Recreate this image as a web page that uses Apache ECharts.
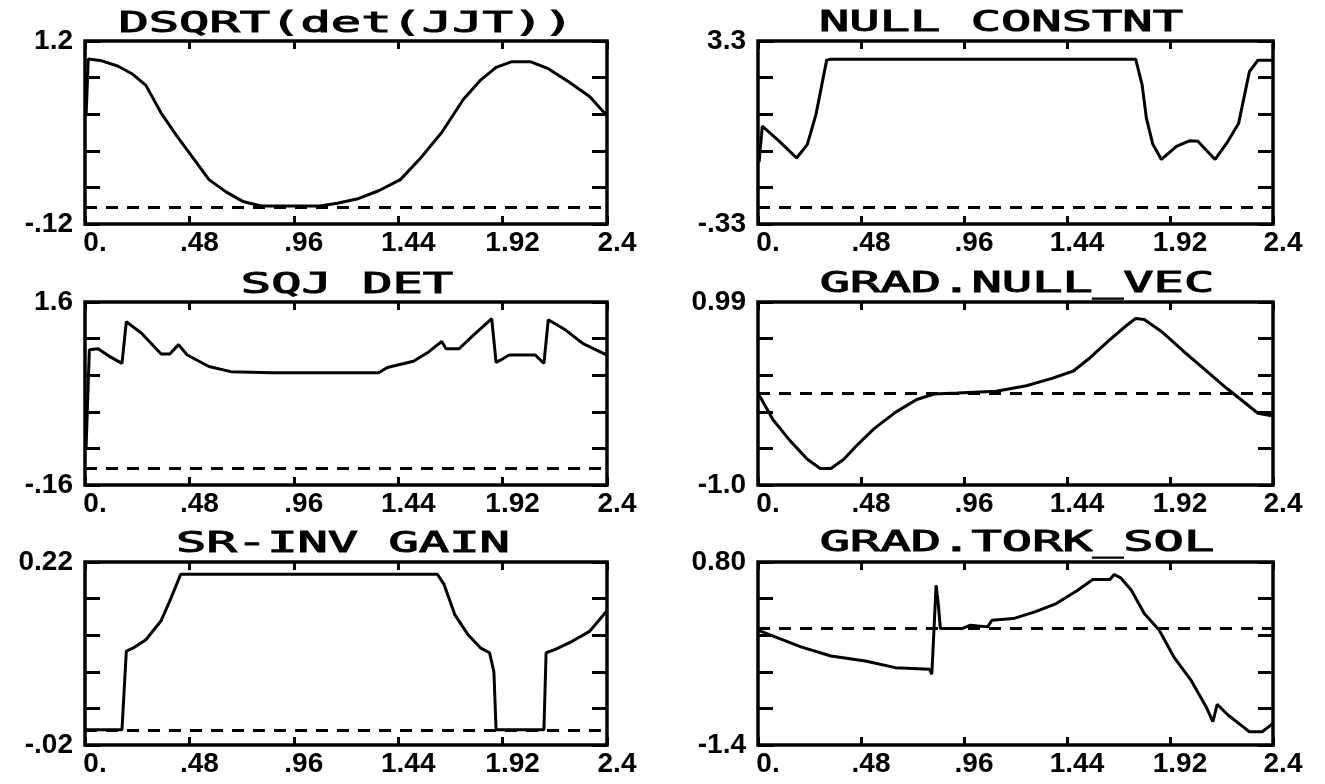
<!DOCTYPE html>
<html>
<head>
<meta charset="utf-8">
<script src="https://cdn.jsdelivr.net/npm/echarts@6/dist/echarts.min.js"></script>
<style>
html,body{margin:0;padding:0;background:#fff;}
#chart{width:1325px;height:784px;}
</style>
</head>
<body>
<div id="chart"></div>
<script>
// ---- data ----
const xTickLabels = ['0.', '.48', '.96', '1.44', '1.92', '2.4'];
const titles = ['DSQRT(det(JJT))', 'NULL CONSTNT', 'SQJ DET', 'GRAD.NULL_VEC', 'SR-INV GAIN', 'GRAD.TORK_SOL'];
const yMins = [-0.12, -0.33, -0.16, -1.0, -0.02, -1.4];
const yMaxs = [1.2, 3.3, 1.6, 0.99, 0.22, 0.80];
const yMinLabels = ['-.12', '-.33', '-.16', '-1.0', '-.02', '-1.4'];
const yMaxLabels = ['1.2', '3.3', '1.6', '0.99', '0.22', '0.80'];

const dsqrtT = [0.005, 0.015, 0.07, 0.15, 0.22, 0.28, 0.35, 0.42, 0.50, 0.57, 0.65, 0.73, 0.81, 0.88, 0.96, 1.08, 1.16, 1.25, 1.35, 1.45, 1.54, 1.64, 1.74, 1.82, 1.89, 1.96, 2.05, 2.13, 2.22, 2.32, 2.40];
const dsqrtV = [0.66, 1.07, 1.06, 1.02, 0.96, 0.88, 0.68, 0.52, 0.35, 0.20, 0.11, 0.04, 0.01, 0.01, 0.01, 0.01, 0.03, 0.06, 0.12, 0.20, 0.35, 0.54, 0.78, 0.92, 1.01, 1.05, 1.05, 1.00, 0.91, 0.80, 0.66];

const nullT = [0.005, 0.02, 0.10, 0.18, 0.23, 0.27, 0.32, 0.34, 1.76, 1.79, 1.81, 1.84, 1.88, 1.95, 2.01, 2.05, 2.13, 2.19, 2.24, 2.29, 2.33, 2.40];
const nullV = [0.90, 1.61, 1.31, 0.98, 1.25, 1.84, 2.92, 2.94, 2.94, 2.43, 1.77, 1.25, 0.95, 1.21, 1.32, 1.31, 0.95, 1.31, 1.67, 2.69, 2.92, 2.92];

const sqjT = [0.005, 0.02, 0.06, 0.11, 0.17, 0.19, 0.26, 0.35, 0.39, 0.43, 0.47, 0.57, 0.67, 0.86, 1.35, 1.39, 1.51, 1.58, 1.64, 1.66, 1.72, 1.78, 1.87, 1.89, 1.91, 1.95, 2.07, 2.11, 2.13, 2.21, 2.29, 2.40];
const sqjV = [0.20, 1.14, 1.15, 1.08, 1.01, 1.41, 1.30, 1.10, 1.10, 1.19, 1.09, 0.98, 0.93, 0.92, 0.92, 0.97, 1.03, 1.12, 1.22, 1.15, 1.15, 1.27, 1.44, 1.02, 1.04, 1.09, 1.09, 1.01, 1.43, 1.33, 1.20, 1.09];

const gnvT = [0.0, 0.07, 0.15, 0.23, 0.29, 0.34, 0.40, 0.46, 0.54, 0.64, 0.74, 0.82, 0.93, 1.11, 1.25, 1.37, 1.47, 1.54, 1.64, 1.72, 1.76, 1.80, 1.88, 1.98, 2.08, 2.18, 2.25, 2.33, 2.40];
const gnvV = [0.0, -0.29, -0.52, -0.72, -0.82, -0.82, -0.72, -0.57, -0.39, -0.21, -0.07, -0.01, 0.0, 0.02, 0.08, 0.16, 0.24, 0.37, 0.58, 0.74, 0.81, 0.80, 0.67, 0.46, 0.26, 0.06, -0.07, -0.22, -0.25];

const srT = [0.0, 0.17, 0.19, 0.22, 0.28, 0.35, 0.39, 0.44, 1.62, 1.65, 1.70, 1.76, 1.82, 1.86, 1.88, 1.89, 2.11, 2.12, 2.16, 2.24, 2.32, 2.40];
const srV = [0.0, 0.0, 0.103, 0.107, 0.118, 0.143, 0.169, 0.204, 0.204, 0.191, 0.151, 0.125, 0.107, 0.101, 0.076, 0.0, 0.0, 0.101, 0.105, 0.116, 0.129, 0.156];

const gtsT = [0.0, 0.08, 0.20, 0.34, 0.50, 0.64, 0.80, 0.81, 0.82, 0.83, 0.84, 0.85, 0.95, 0.99, 1.07, 1.09, 1.19, 1.29, 1.39, 1.49, 1.56, 1.64, 1.66, 1.69, 1.74, 1.80, 1.87, 1.94, 2.02, 2.09, 2.12, 2.14, 2.19, 2.27, 2.29, 2.35, 2.40];
const gtsV = [-0.02, -0.10, -0.22, -0.33, -0.39, -0.47, -0.49, -0.55, -0.02, 0.52, 0.30, 0.0, 0.0, 0.04, 0.02, 0.10, 0.12, 0.20, 0.30, 0.46, 0.59, 0.59, 0.65, 0.61, 0.46, 0.18, -0.02, -0.35, -0.63, -0.95, -1.12, -0.91, -1.04, -1.20, -1.24, -1.24, -1.14];

const seriesT = [dsqrtT, nullT, sqjT, gnvT, srT, gtsT];
const seriesV = [dsqrtV, nullV, sqjV, gnvV, srV, gtsV];

// ---- layout ----
const colLeft = [85, 758];
const colWidth = [522, 515];
const rowTop = [41, 302, 562];
const rowHeight = 183;
const titleY = [25, 286, 545];
const titleX = [346, 1001, 347, 1017, 343, 1017];

const labelFont = "'Liberation Sans', Arial, sans-serif";
const grids = [], xAxes = [], yAxes = [], series = [], graphics = [];

for (let i = 0; i < 6; i++) {
  const col = i % 2, row = Math.floor(i / 2);
  grids.push({
    left: colLeft[col], top: rowTop[row], width: colWidth[col], height: rowHeight,
    show: true, borderColor: '#000', borderWidth: 3.5, backgroundColor: 'transparent'
  });
  const xBase = {
    type: 'value', gridIndex: i, min: 0, max: 2.4, interval: 0.48,
    axisLine: { show: false, onZero: false }, splitLine: { show: false },
    axisTick: { show: true, inside: true, length: 8, lineStyle: { color: '#000', width: 3 } }
  };
  xAxes.push(Object.assign({}, xBase, {
    position: 'bottom',
    axisLabel: {
      show: true, margin: 5, color: '#000', fontSize: 28, fontWeight: 'bold', fontFamily: labelFont,
      padding: [0, 0, 0, 20],
      formatter: (v) => xTickLabels[Math.round(v / 0.48)]
    }
  }));
  xAxes.push(Object.assign({}, xBase, { position: 'top', axisLabel: { show: false } }));

  const mn = yMins[i], mx = yMaxs[i];
  const yBase = {
    type: 'value', gridIndex: i, min: mn, max: mx, interval: (mx - mn) / 5,
    axisLine: { show: false, onZero: false }, splitLine: { show: false },
    axisTick: { show: true, inside: true, length: 15, lineStyle: { color: '#000', width: 3 } }
  };
  const tol = (mx - mn) * 1e-4;
  yAxes.push(Object.assign({}, yBase, {
    position: 'left',
    axisLabel: {
      show: true, margin: 12, color: '#000', fontSize: 28, fontWeight: 'bold', fontFamily: labelFont,
      showMinLabel: true, showMaxLabel: true,
      formatter: v => Math.abs(v - mn) < tol ? yMinLabels[i] : (Math.abs(v - mx) < tol ? yMaxLabels[i] : '')
    }
  }));
  yAxes.push(Object.assign({}, yBase, { position: 'right', axisLabel: { show: false } }));

  const data = seriesT[i].map((t, k) => [t, seriesV[i][k]]);
  series.push({
    type: 'line', xAxisIndex: 2 * i, yAxisIndex: 2 * i, data: data,
    showSymbol: false, symbol: 'none', animation: false,
    lineStyle: { color: '#000', width: 3 },
    markLine: {
      silent: true, symbol: ['none', 'none'], label: { show: false }, animation: false,
      lineStyle: { color: '#000', width: 3, type: [12, 9] },
      data: [{ yAxis: 0 }]
    }
  });

  graphics.push({
    type: 'text', x: titleX[i], y: titleY[row] - (col === 1 ? 1 : 0),
    scaleX: 1.8, scaleY: 1,
    style: {
      text: titles[i], fill: '#000', stroke: '#000', lineWidth: 1,
      font: "28px 'DejaVu Sans Mono', monospace",
      textAlign: 'center', textVerticalAlign: 'middle'
    }
  });
}

const chart = echarts.init(document.getElementById('chart'), null, { renderer: 'canvas' });
chart.setOption({
  backgroundColor: '#fff',
  animation: false,
  grid: grids, xAxis: xAxes, yAxis: yAxes, series: series,
  graphic: graphics
});
</script>
</body>
</html>
